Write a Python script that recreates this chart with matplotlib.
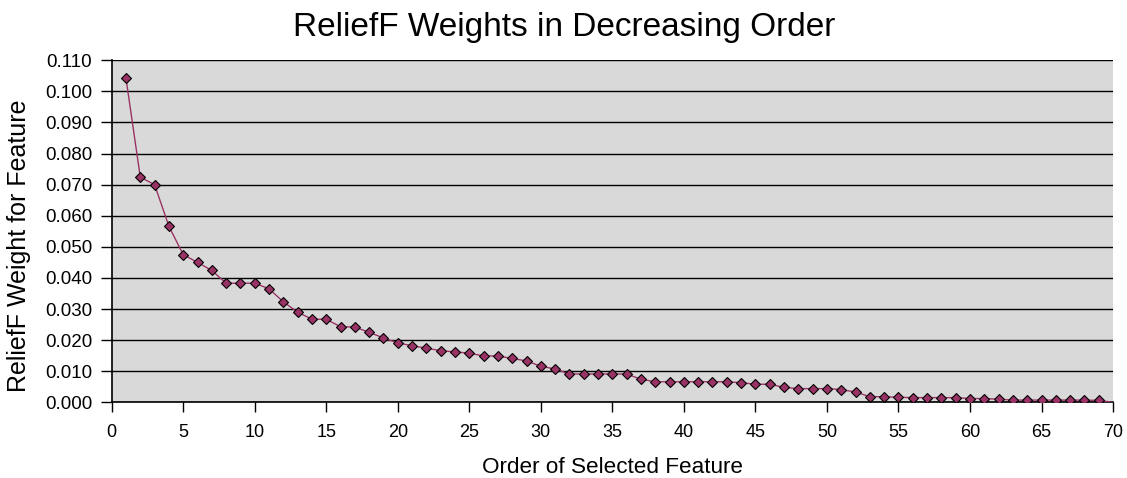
import matplotlib
matplotlib.use("Agg")
import matplotlib.pyplot as plt
from matplotlib.ticker import FormatStrFormatter

plt.rcParams['font.family'] = ['Liberation Sans', 'DejaVu Sans']

# ReliefF weights, order 1..70
order = list(range(1, 71))
weights = [
    0.1042, 0.0724, 0.0700, 0.0566, 0.0475, 0.0450, 0.0424, 0.0383, 0.0383, 0.0383,
    0.0365, 0.0323, 0.0290, 0.0267, 0.0267, 0.0243, 0.0242, 0.0225, 0.0207, 0.0191,
    0.0182, 0.0174, 0.0166, 0.0162, 0.0158, 0.0149, 0.0149, 0.0141, 0.0133, 0.0116,
    0.0107, 0.0091, 0.0091, 0.0091, 0.0091, 0.0091, 0.0074, 0.0066, 0.0066, 0.0066,
    0.0066, 0.0066, 0.0066, 0.0063, 0.0058, 0.0058, 0.0048, 0.0044, 0.0044, 0.0044,
    0.0041, 0.0033, 0.0018, 0.0018, 0.0016, 0.0015, 0.0015, 0.0015, 0.0015, 0.0012,
    0.0012, 0.0010, 0.0007, 0.0007, 0.0007, 0.0007, 0.0007, 0.0007, 0.0006, 0.0000,
]
x_ticks = list(range(0, 71, 5))
y_ticks = [i / 100 for i in range(0, 12)]

fig = plt.figure(figsize=(11.27, 4.78), dpi=100)
ax = fig.add_axes([0.0991, 0.1584, 0.8885, 0.7154])
ax.set_facecolor("#D9D9D9")

ax.plot(order, weights, color="#993366", lw=1.0, marker="D", markersize=5,
        markerfacecolor="#993366", markeredgecolor="black", markeredgewidth=0.8,
        markevery=list(range(69)), zorder=3)

ax.set_xlim(0, 70)
ax.set_ylim(0, 0.110)
ax.set_xticks(x_ticks)
ax.set_yticks(y_ticks)
ax.yaxis.set_major_formatter(FormatStrFormatter('%.3f'))
ax.grid(axis='y', color='black', lw=1.0, zorder=1)
ax.set_axisbelow(True)

for s in ['top', 'right']:
    ax.spines[s].set_visible(False)
for s in ['left', 'bottom']:
    ax.spines[s].set_color('black')
    ax.spines[s].set_linewidth(1.2)

ax.tick_params(axis='x', direction='out', length=7.5, width=1, colors='black',
               labelsize=13, pad=8)
ax.tick_params(axis='y', direction='out', length=8, width=1, colors='black',
               labelsize=13.5, pad=6)

# titles placed in figure coords to match the original layout
fig.text(0.5005, 1 - 36 / 478, "ReliefF Weights in Decreasing Order",
         fontsize=24, ha='center', va='baseline')
fig.text(0.5437, 5 / 478, "Order of Selected Feature",
         fontsize=16.2, ha='center', va='baseline')
fig.text(0.0169, 0.4864, "ReliefF Weight for Feature",
         fontsize=18, ha='center', va='center', rotation=90)

fig.savefig("out.png", dpi=100)
